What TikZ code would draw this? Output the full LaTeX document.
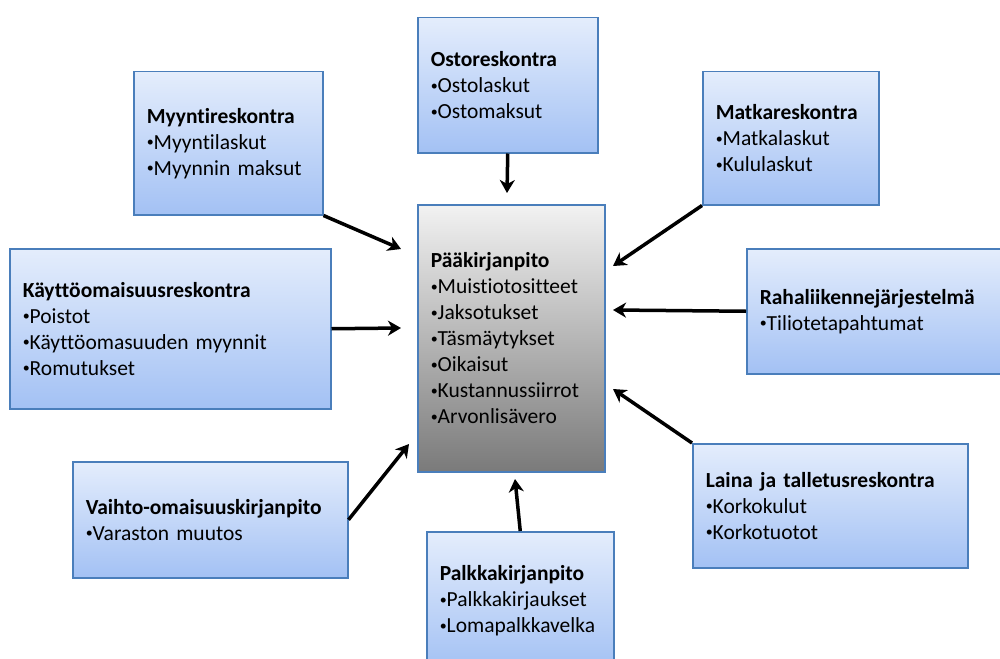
\documentclass[tikz,border=0pt]{standalone}
\usepackage{fontspec}
\setmainfont{Carlito}[Ligatures=NoCommon]
\usetikzlibrary{arrows.meta,shadows}

\definecolor{boxborder}{HTML}{4A7EBB}
\definecolor{bluetop}{HTML}{E4EDFC}
\definecolor{bluebot}{HTML}{A3C1F4}
\definecolor{graytop}{HTML}{F2F2F2}
\definecolor{graybot}{HTML}{7A7A7A}

% small list bullet
\newcommand{\bu}{{\fontsize{14}{14}\selectfont\raisebox{2.5pt}{•}}}

\begin{document}
\begin{tikzpicture}[x=1pt,y=-1pt,
  ledger/.style={draw=boxborder, line width=1.5pt, anchor=north west,
    top color=bluetop, bottom color=bluebot,
    inner xsep=13pt, inner ysep=0pt, align=left,
    font=\fontsize{21.5}{26}\selectfont,
    drop shadow={shadow xshift=0.5pt, shadow yshift=-1.5pt, opacity=0.3, fill=black}},
  mainledger/.style={ledger, top color=graytop, bottom color=graybot},
  feed/.style={line width=3.5pt, -{Stealth[length=13pt,width=15pt,inset=4pt]}},
]
\useasboundingbox (0,0) rectangle (1000,658);

% sub-ledgers around the general ledger
\node[ledger, minimum width=180pt, text width=154pt, minimum height=135pt] (osto) at (417,17)
  {\textbf{Ostoreskontra}\\\bu Ostolaskut\\\bu Ostomaksut};
\node[ledger, minimum width=189pt, text width=163pt, minimum height=143pt] (myy) at (133,71)
  {\textbf{Myyntireskontra}\\\bu Myyntilaskut\\\bu Myynnin maksut};
\node[ledger, minimum width=176pt, text width=150pt, minimum height=133pt] (mat) at (702,71)
  {\textbf{Matkareskontra}\\\bu Matkalaskut\\\bu Kululaskut};
\node[ledger, minimum width=321pt, text width=295pt, minimum height=160pt] (kay) at (9,248)
  {\textbf{Käyttöomaisuusreskontra}\\\bu Poistot\\\bu Käyttöomasuuden myynnit\\\bu Romutukset};
\node[ledger, minimum width=262pt, text width=236pt, minimum height=125pt] (rah) at (746,248)
  {\textbf{Rahaliikennejärjestelmä}\\\bu Tiliotetapahtumat};
\node[ledger, minimum width=275pt, text width=249pt, minimum height=116pt] (vai) at (72,461)
  {\textbf{Vaihto-omaisuuskirjanpito}\\\bu Varaston muutos};
\node[ledger, minimum width=187pt, text width=161pt, minimum height=138pt] (pal) at (426,531)
  {\textbf{Palkkakirjanpito}\\\bu Palkkakirjaukset\\\bu Lomapalkkavelka};
\node[ledger, minimum width=275pt, text width=249pt, minimum height=124pt] (lai) at (692,443)
  {\textbf{Laina ja talletusreskontra}\\\bu Korkokulut\\\bu Korkotuotot};

% general ledger
\node[mainledger, minimum width=187pt, text width=161pt, minimum height=267pt] (paa) at (417,204)
  {\textbf{Pääkirjanpito}\\\bu Muistiotositteet\\\bu Jaksotukset\\\bu Täsmäytykset\\\bu Oikaisut\\\bu Kustannussiirrot\\\bu Arvonlisävero};

% arrow tips next to the general ledger
\coordinate (tOsto) at (507,193);
\coordinate (tMyy) at (401,249);
\coordinate (tKay) at (401,328);
\coordinate (tVai) at (409,444);
\coordinate (tPal) at (515,479);
\coordinate (tMat) at (613,266);
\coordinate (tRah) at (613,310);
\coordinate (tLai) at (613,389);

\draw[feed] (osto.south) -- (tOsto);
\draw[feed] (myy.south east) -- (tMyy);
\draw[feed] (kay.east) -- (tKay);
\draw[feed] (vai.east) -- (tVai);
\draw[feed] (pal.north) -- (tPal);
\draw[feed] (mat.south west) -- (tMat);
\draw[feed] (rah.west) -- (tRah);
\draw[feed] (lai.north west) -- (tLai);
\end{tikzpicture}
\end{document}
